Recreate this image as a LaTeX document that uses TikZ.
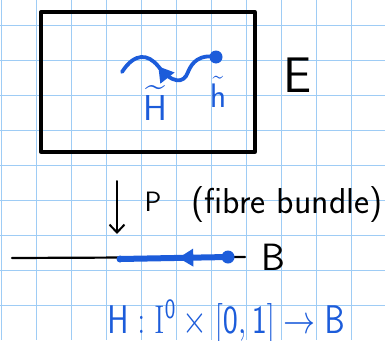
\RequirePackage{fix-cm}
\documentclass[tikz,border=0pt]{standalone}
\usepackage{amsmath,amssymb}
\usepackage{xcolor}
\usepackage{tikz}
\usetikzlibrary{arrows.meta,positioning,decorations.markings}
\definecolor{penblue}{RGB}{28,92,218}
\definecolor{gridblue}{RGB}{158,204,245}
\tikzset{
  gridln/.style={gridblue,line width=1pt},
  penblk/.style={black,line width=3.3pt,line cap=round,line join=round},
  penblu/.style={penblue,line width=3.8pt,line cap=round,line join=round},
  dotB/.style={circle,fill=penblue,inner sep=0pt,minimum size=13pt},
  dotS/.style={circle,fill=penblue,inner sep=0pt,minimum size=7pt},
  hlab/.style={font=\sffamily\fontsize{#1}{#1}\selectfont,inner sep=0pt},
  midarr/.style={postaction={decorate},decoration={markings,
      mark=at position #1 with {\arrow{Triangle[length=15pt,width=17pt]}}}},
}
\begin{document}
\begin{tikzpicture}[x=1pt,y=-1pt]
        \useasboundingbox (0,0) rectangle (385,340);
        % squared paper
        \foreach \gx in {1,36,...,351} \draw[gridln] (\gx,0)--(\gx,340);
        \foreach \gy in {25,60,...,305} \draw[gridln] (0,\gy)--(385,\gy);
        % total space
        \node[draw,penblk,minimum width=214pt,minimum height=140pt] (Ebox) at (148,82) {};
        \node[hlab=50] (E) at (298,75) {E};
        % lifted path
        \node[dotB] (ht) at (216,57) {};
        \coordinate (Ht) at (122,72);
        \draw[penblu,midarr=0.62] (ht.center) .. controls (200,54) and (192,62) .. (188,72)
          .. controls (184,84) and (172,84) .. (158,66)
          .. controls (148,54) and (135,52) .. (Ht);
        \node[hlab=36,penblue] (Hl) at (155,103) {$\widetilde{\mathsf{H}}$};
        \node[hlab=34,penblue] (hl) at (218,92) {$\tilde{\mathsf{h}}$};
        % projection
        \coordinate (Ptop) at (117,181);
        \coordinate (Pbot) at (117,234);
        \draw[penblk,line width=2pt,-{Straight Barb[length=8pt,width=15pt]}] (Ptop)--(Pbot);
        \node[hlab=28] (P) at (153,202) {P};
        \node[hlab=36] (fb) at (287,205) {(fibre bundle)};
        % base space
        \coordinate (Bl) at (12,258);
        \coordinate (Br) at (245,257);
        \draw[penblk,line width=2.2pt] (Bl)--(Br);
        \node[hlab=38] (B) at (273,257) {B};
        \node[dotS] (b0) at (120,259) {};
        \node[dotB] (b1) at (228,257) {};
        \draw[penblu,line width=6pt,midarr=0.46] (b1.center)--(b0.center);
        \node[hlab=40,penblue,xscale=0.8] (hom) at (226,322) {$\mathsf{H : \mathrm{I}^0\times[0,1]\to B}$};
      \end{tikzpicture}
\end{document}
